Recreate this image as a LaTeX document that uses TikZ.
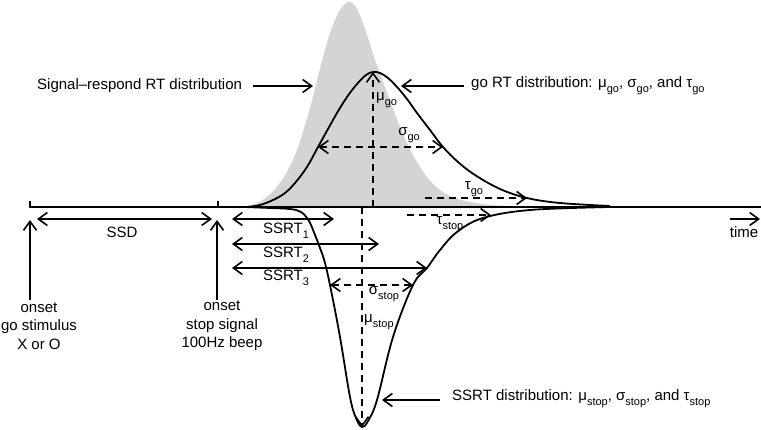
\documentclass[tikz,border=0pt]{standalone}
\usepackage{fontspec}
\setmainfont{Liberation Sans}
\usetikzlibrary{arrows.meta}

\definecolor{srgray}{gray}{0.83}
\newcommand{\sbs}[1]{\raisebox{-0.36em}{\fontsize{11}{11}\selectfont #1}}

\tikzset{
  lbl/.style={inner sep=0pt, font=\fontsize{15}{18.5}\selectfont},
  curve/.style={line width=1.8pt},
  arr/.style={line width=1.6pt, -{Straight Barb[length=9pt,width=13pt]}},
  darr/.style={line width=1.6pt, {Straight Barb[length=9pt,width=13pt]}-{Straight Barb[length=9pt,width=13pt]}},
  dsh/.style={dash pattern=on 7pt off 5pt},
}

\begin{document}
\begin{tikzpicture}[x=1pt,y=-1pt]
    \useasboundingbox (0,0) rectangle (761,430);

    % signal-respond RT distribution
    \fill[srgray] plot[smooth,tension=0.6] coordinates {(238,207) (252,205) (264,199) (276,188) (288,170) (297,150) (305,125) (313,97) (321,65) (330,33) (340,10) (349,2) (357,9) (366,32) (376,63) (388,95) (398,122) (408,145) (420,167) (433,184) (450,196) (475,203) (505,206)} -- cycle;

    % time axis
    \coordinate (goon) at (30,207);
    \coordinate (stopon) at (218,207);
    \coordinate (axend) at (761,207);
    \draw[curve] (goon) ++(0,-6) -- (goon) -- (axend);
    \draw[curve] (stopon) ++(0,-6) -- (stopon);

    % go RT distribution
    \draw[curve] plot[smooth,tension=0.6] coordinates {(247,207) (260,205) (273,200) (285,193) (295,183) (307,167) (318,147) (328,129) (337,113) (347,97) (357,84) (366,75) (373,72) (380,73) (388,78) (397,87) (407,99) (417,113) (430,130) (443,147) (458,162) (475,175) (500,189) (527,198) (560,203) (610,206)};

    % SSRT distribution
    \draw[curve] plot[smooth,tension=0.6] coordinates {(245,207) (270,208) (290,209) (301,212) (309,221) (315,235) (320,248) (325,263) (331,290) (340,337) (350,397) (356,418) (362,427) (368,421) (377,400) (393,337) (413,285) (427,268) (440,250) (457,232) (483,218) (530,210) (610,207)};

    % parameters
    \coordinate (gopeak) at (373,72);
    \coordinate (gobase) at (373,207);
    \coordinate (sgoL) at (318,147);
    \coordinate (sgoR) at (443,147);
    \coordinate (tgoL) at (425,198);
    \coordinate (tgoR) at (527,198);
    \coordinate (stoppeak) at (362,427);
    \coordinate (stopbase) at (362,207);
    \coordinate (sstopL) at (330,285);
    \coordinate (sstopR) at (413,285);
    \coordinate (tstopL) at (407,215);
    \coordinate (tstopR) at (491,215);
    \draw[arr,dsh] (gobase) -- (gopeak);
    \draw[darr,dsh] (sgoL) -- (sgoR);
    \draw[arr,dsh] (tgoL) -- (tgoR);
    \draw[arr,dsh] (stopbase) -- (stoppeak);
    \draw[darr,dsh] (sstopL) -- (sstopR);
    \draw[arr,dsh] (tstopL) -- (tstopR);
    \node[lbl, anchor=west] (mugo) at (376,100) {μ\sbs{go}};
    \node[lbl] (sigmago) at (409,135) {σ\sbs{go}};
    \node[lbl] (taugo) at (474,189) {τ\sbs{go}};
    \node[lbl] (taustop) at (450,224) {τ\sbs{stop}};
    \node[lbl] (sigmastop) at (384,294) {σ\sbs{stop}};
    \node[lbl, anchor=west] (mustop) at (364,322) {μ\sbs{stop}};

    % intervals
    \coordinate (ssdL) at (37,219);
    \coordinate (ssdR) at (212,219);
    \draw[darr] (ssdL) -- (ssdR);
    \node[lbl] (ssd) at (122,232) {SSD};
    \coordinate (ssrtA) at (232,219);
    \coordinate (ssrtAe) at (334,219);
    \coordinate (ssrtB) at (232,244);
    \coordinate (ssrtBe) at (379,244);
    \coordinate (ssrtC) at (232,268);
    \coordinate (ssrtCe) at (427,268);
    \draw[darr] (ssrtA) -- (ssrtAe);
    \draw[darr] (ssrtB) -- (ssrtBe);
    \draw[darr] (ssrtC) -- (ssrtCe);
    \node[lbl] (ssrt1) at (286,231) {SSRT\sbs{1}};
    \node[lbl] (ssrt2) at (286,255) {SSRT\sbs{2}};
    \node[lbl] (ssrt3) at (286,278) {SSRT\sbs{3}};

    % onsets
    \coordinate (goarr) at (30,300);
    \coordinate (goarrtip) at (30,220);
    \coordinate (stoparr) at (217,300);
    \coordinate (stoparrtip) at (217,220);
    \draw[arr] (goarr) -- (goarrtip);
    \draw[arr] (stoparr) -- (stoparrtip);
    \node[lbl, align=center] (gotxt) at (39,326) {onset\\go stimulus\\X or O};
    \node[lbl, align=center] (stoptxt) at (222,326) {onset\\stop signal\\100Hz beep};

    % time
    \coordinate (timeL) at (730,219);
    \coordinate (timeR) at (760,219);
    \draw[arr] (timeL) -- (timeR);
    \node[lbl] (time) at (744,232) {time};

    % annotations
    \node[lbl, anchor=west] (srtxt) at (37,86) {Signal\textendash respond RT distribution};
    \coordinate (srA) at (253,86);
    \coordinate (srB) at (313,86);
    \draw[arr] (srA) -- (srB);
    \node[lbl, anchor=west] (gotext) at (471,86) {go RT distribution: μ\sbs{go}, σ\sbs{go}, and τ\sbs{go}};
    \coordinate (goA) at (464,86);
    \coordinate (goB) at (401,86);
    \draw[arr] (goA) -- (goB);
    \node[lbl, anchor=west] (stoptext) at (452,399) {SSRT distribution: μ\sbs{stop}, σ\sbs{stop}, and τ\sbs{stop}};
    \coordinate (stA) at (440,400);
    \coordinate (stB) at (382,400);
    \draw[arr] (stA) -- (stB);
\end{tikzpicture}
\end{document}
